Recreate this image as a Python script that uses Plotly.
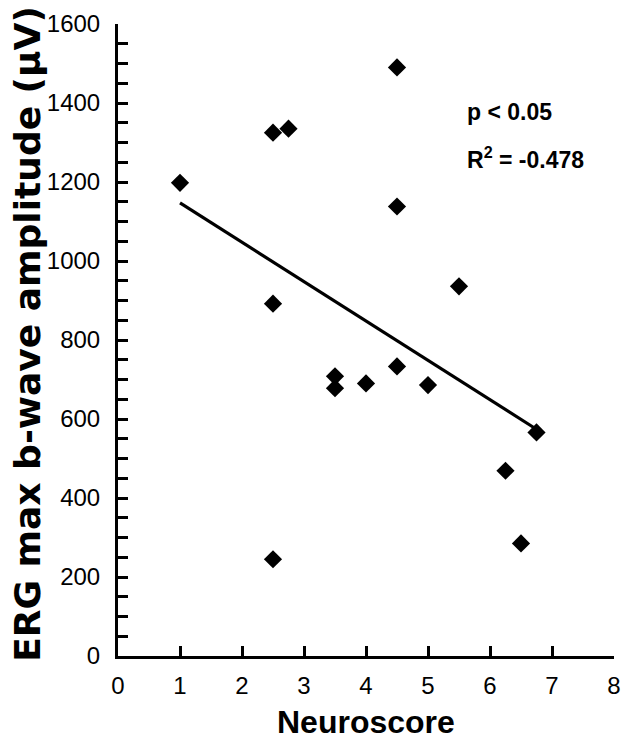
import plotly.graph_objects as go

# Data
neuroscore = [1, 2.5, 2.75, 2.5, 2.5, 3.5, 3.5, 4, 4.5, 4.5, 4.5, 5, 5.5, 6.25, 6.5, 6.75]
erg_amp = [1198, 1325, 1335, 892, 245, 708, 678, 690, 1490, 1138, 733, 686, 936, 469, 285, 566]
trend_x = [1, 6.75]
trend_y = [1147, 574]
x_ticks = [0, 1, 2, 3, 4, 5, 6, 7, 8]
y_ticks = [0, 200, 400, 600, 800, 1000, 1200, 1400, 1600]

W, H = 629, 748
L, R, T, B = 117.5, 15, 23.5, 92
PW, PH = W - L - R, H - T - B

tick_font = dict(family="Liberation Sans, Arial", size=24, color="black")

fig = go.Figure()
fig.add_trace(go.Scatter(x=trend_x, y=trend_y, mode="lines",
                         line=dict(color="black", width=3.2), showlegend=False, hoverinfo="skip"))
fig.add_trace(go.Scatter(x=neuroscore, y=erg_amp, mode="markers",
                         marker=dict(symbol="diamond", size=14, color="black"), showlegend=False))

fig.update_layout(
    width=W, height=H,
    margin=dict(l=L, r=R, t=T, b=B, autoexpand=False),
    plot_bgcolor="white", paper_bgcolor="white",
    xaxis=dict(range=[0, 8], tickvals=x_ticks, ticktext=[str(v) for v in x_ticks],
               ticks="inside", ticklen=10, tickwidth=2.5, tickcolor="black",
               showline=True, linewidth=3, linecolor="black", showgrid=False, zeroline=False,
               tickfont=tick_font, ticklabelstandoff=6, automargin=False),
    yaxis=dict(range=[0, 1600], tickvals=y_ticks, ticktext=[str(v) for v in y_ticks],
               ticks="inside", ticklen=10, tickwidth=2.5, tickcolor="black",
               minor=dict(dtick=50, tick0=0, ticks="inside", ticklen=10, tickwidth=2.5, tickcolor="black"),
               showline=True, linewidth=3, linecolor="black", showgrid=False, zeroline=False,
               tickfont=tick_font, ticklabelstandoff=10, automargin=False),
    annotations=[
        dict(text="<b>ERG max b-wave amplitude (μV)</b>", xref="paper", yref="paper",
             x=(27 - L) / PW, y=(656 - 334) / PH, textangle=-90,
             xanchor="center", yanchor="middle", showarrow=False,
             font=dict(family="DejaVu Sans", size=36, color="black")),
        dict(text="<b>Neuroscore</b>", xref="paper", yref="paper",
             x=(366 - L) / PW, y=(656 - 722) / PH, xanchor="center", yanchor="middle",
             showarrow=False, font=dict(family="Liberation Sans, Arial", size=32, color="black")),
        dict(text="<b>p < 0.05</b>", xref="paper", yref="paper",
             x=(465 - L) / PW, y=(656 - 112) / PH, xanchor="left", yanchor="middle",
             showarrow=False, font=dict(family="Liberation Sans, Arial", size=23, color="black")),
        dict(text="<b>R<sup>2</sup> = -0.478</b>", xref="paper", yref="paper",
             x=(465 - L) / PW, y=(656 - 158) / PH, xanchor="left", yanchor="middle",
             showarrow=False, font=dict(family="Liberation Sans, Arial", size=23, color="black")),
    ],
)

fig.write_html("out.html", config={"displayModeBar": False},
               post_script="document.body.style.margin='0px';document.body.style.overflow='hidden';")
